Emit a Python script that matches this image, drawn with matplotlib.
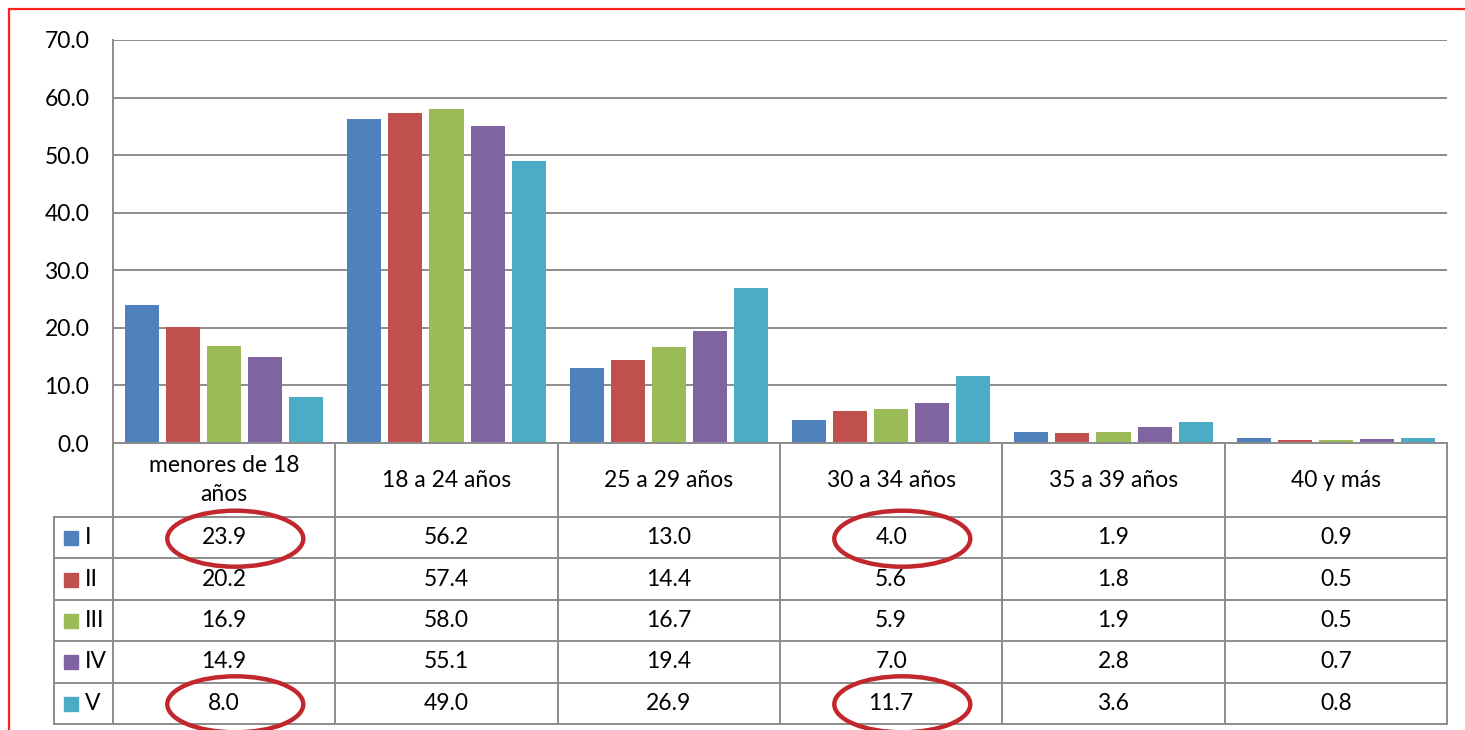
import matplotlib
matplotlib.use("Agg")
import matplotlib.pyplot as plt
from matplotlib.patches import Rectangle, Ellipse

# ---- data ----
categories = ["menores de 18\naños", "18 a 24 años", "25 a 29 años",
              "30 a 34 años", "35 a 39 años", "40 y más"]
series_names = ["I", "II", "III", "IV", "V"]
s_I = [23.9, 56.2, 13.0, 4.0, 1.9, 0.9]
s_II = [20.2, 57.4, 14.4, 5.6, 1.8, 0.5]
s_III = [16.9, 58.0, 16.7, 5.9, 1.9, 0.5]
s_IV = [14.9, 55.1, 19.4, 7.0, 2.8, 0.7]
s_V = [8.0, 49.0, 26.9, 11.7, 3.6, 0.8]
series_values = [s_I, s_II, s_III, s_IV, s_V]
colors = ["#4F81BD", "#C0504D", "#9BBB59", "#8064A2", "#4BACC6"]
yticks = [0, 10, 20, 30, 40, 50, 60, 70]
# highlighted cells: (series index, category index)
highlights = [(0, 0), (4, 0), (0, 3), (4, 3)]

plt.rcParams["font.family"] = ["Lato", "DejaVu Sans"]

W, H = 1465, 730
fig = plt.figure(figsize=(W / 100, H / 100), dpi=100)


def rect(l, t, r, b):
    return [l / W, 1 - b / H, (r - l) / W, (b - t) / H]


GRID = "#8c8c8c"
GLW = 1.4
FS = 16.5

# ---- bar chart ----
ax = fig.add_axes(rect(113, 40, 1447, 443))
ax.set_xlim(-0.5, len(categories) - 0.5)
ax.set_ylim(0, 70)
step = 0.1845
width = 0.153
for i, (vals, c) in enumerate(zip(series_values, colors)):
    xs = [j + (i - 2) * step for j in range(len(categories))]
    ax.bar(xs, vals, width=width, color=c, zorder=3)
ax.set_yticks(yticks)
ax.set_yticklabels([f"{v:.1f}" for v in yticks], fontsize=FS)
ax.set_xticks([])
ax.yaxis.grid(True, color=GRID, lw=GLW)
ax.set_axisbelow(True)
for s in ["top", "right", "bottom"]:
    ax.spines[s].set_visible(False)
ax.spines["left"].set_color(GRID)
ax.spines["left"].set_linewidth(GLW)
ax.tick_params(axis="y", length=0, pad=17)

# ---- data table ----
tax = fig.add_axes(rect(113, 443, 1447, 724))
ncat = len(categories)
tax.set_xlim(-0.5, ncat - 0.5)
hdr = 74
tot = 281
rowh = (tot - hdr) / len(series_names)
tax.set_ylim(tot, 0)
tax.axis("off")
unit = (1447 - 113) / ncat  # px per category
left_edge = -0.5 - 59 / unit

lk = dict(color=GRID, lw=GLW, clip_on=False)
tax.plot([-0.5, ncat - 0.5], [0, 0], **lk)
for k in range(ncat + 1):
    tax.plot([-0.5 + k, -0.5 + k], [0, tot], **lk)
tax.plot([left_edge, left_edge], [hdr, tot], **lk)
for r in range(len(series_names) + 1):
    y = hdr + r * rowh
    tax.plot([left_edge, ncat - 0.5], [y, y], **lk)

for j, cat in enumerate(categories):
    tax.text(j, hdr / 2, cat, ha="center", va="center", fontsize=FS,
             linespacing=1.5)

for i, (name, vals, c) in enumerate(zip(series_names, series_values, colors)):
    yc = hdr + (i + 0.5) * rowh
    tax.add_patch(Rectangle((-0.5 - 49 / unit, yc - 6.5), 14 / unit, 14,
                            color=c, clip_on=False))
    tax.text(-0.5 - 28 / unit, yc, name, ha="left", va="center",
             fontsize=FS, clip_on=False)
    for j, v in enumerate(vals):
        tax.text(j, yc, f"{v:.1f}", ha="center", va="center", fontsize=FS)

for (i, j) in highlights:
    yc = hdr + (i + 0.5) * rowh
    tax.add_patch(Ellipse((j + 0.05, yc + 1), 136 / unit, 56, fill=False,
                          edgecolor="#C1272D", lw=3.2, clip_on=False, zorder=5))

# ---- red frame ----
fig.patches.append(Rectangle((9 / W, -0.05), 1.1, 1 - 9 / H + 0.05,
                             transform=fig.transFigure, fill=False,
                             edgecolor="#FF2020", lw=1.6))

fig.savefig("out.png", dpi=100)
